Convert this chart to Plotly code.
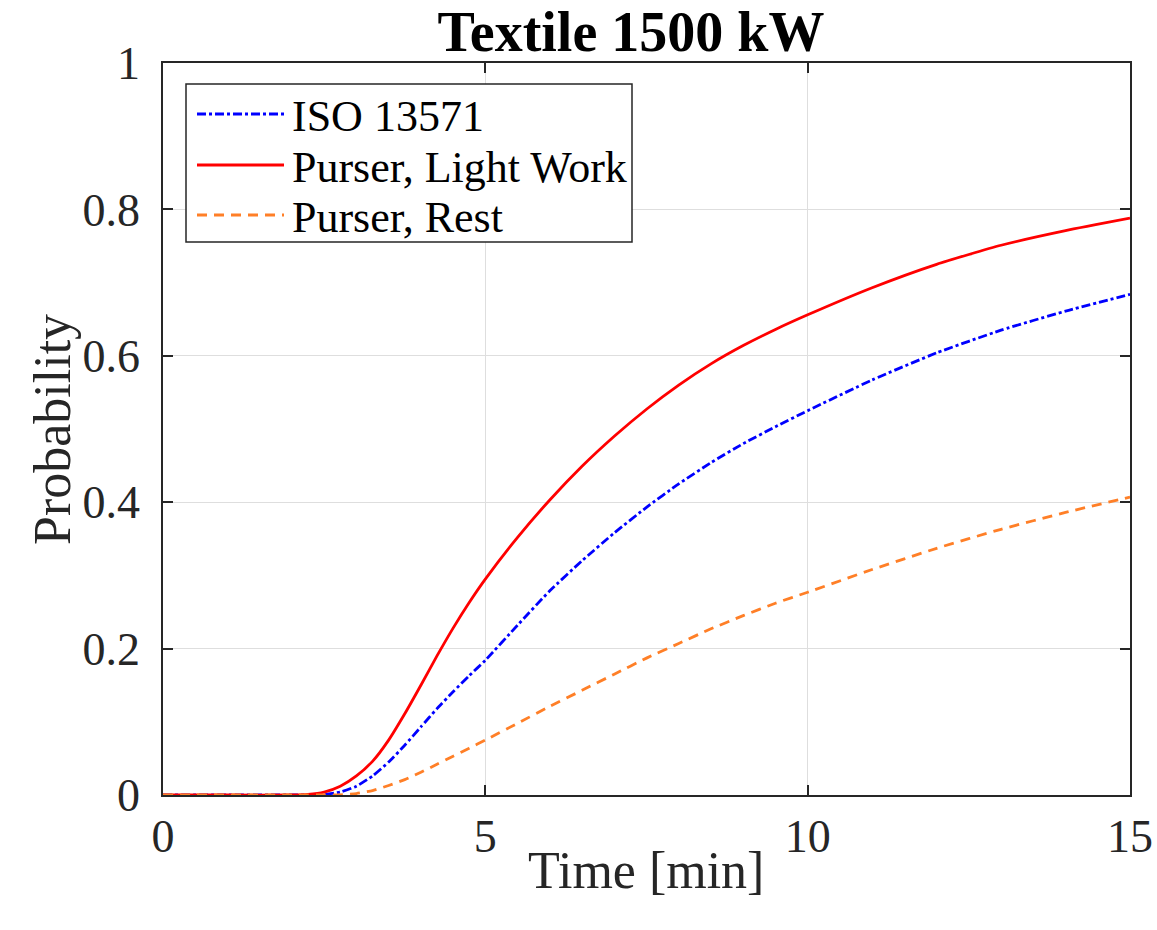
import plotly.graph_objects as go

# Time axis (minutes) and incapacitation probability for each model
time_min = [0, 1, 2, 2.25, 2.5, 2.75, 3, 3.25, 3.5, 3.75, 4, 4.25, 4.5, 4.75, 5,
            5.5, 6, 6.5, 7, 7.5, 8, 8.5, 9, 9.5, 10, 11, 12, 13, 14, 15]

iso_13571 = [0, 0, 0, 0, 0.0008, 0.004, 0.012, 0.026, 0.045, 0.068, 0.093, 0.118,
             0.141, 0.163, 0.184, 0.232, 0.279, 0.320, 0.358, 0.393, 0.425, 0.454,
             0.480, 0.503, 0.525, 0.567, 0.604, 0.635, 0.661, 0.684]

purser_light_work = [0, 0, 0, 0.0008, 0.004, 0.012, 0.026, 0.046, 0.075, 0.111, 0.150,
                     0.190, 0.228, 0.263, 0.295, 0.352, 0.403, 0.449, 0.490, 0.527,
                     0.560, 0.589, 0.614, 0.636, 0.656, 0.693, 0.725, 0.751, 0.771, 0.788]

purser_rest = [0, 0, 0, 0, 0, 0.0003, 0.002, 0.006, 0.013, 0.021, 0.031, 0.042, 0.053,
               0.064, 0.075, 0.098, 0.121, 0.143, 0.165, 0.187, 0.207, 0.227, 0.245,
               0.262, 0.277, 0.308, 0.337, 0.363, 0.386, 0.407]

x_ticks = [0, 5, 10, 15]
y_ticks = [0, 0.2, 0.4, 0.6, 0.8, 1]
y_tick_text = ["0", "0.2", "0.4", "0.6", "0.8", "1"]

series_names = ["ISO 13571", "Purser, Light Work", "Purser, Rest"]
series_values = [iso_13571, purser_light_work, purser_rest]
series_colors = ["#0000ff", "#ff0000", "#ff7f27"]
series_dashes = ["9px,3px,3px,3px", "solid", "10px,7px"]

FONT = "Liberation Serif"
AXIS_COLOR = "#262626"

# Plot area in pixels
W, H = 1157, 930
L, R, T, B = 163, 27, 63, 135
PW, PH = W - L - R, H - T - B


def px_x(p):
    return (p - L) / PW


def px_y(p):
    return (H - B - p) / PH


fig = go.Figure()
for name, vals, color, dash in zip(series_names, series_values, series_colors, series_dashes):
    fig.add_trace(go.Scatter(
        x=time_min, y=vals, name=name, mode="lines", showlegend=False,
        line=dict(color=color, width=2.8, dash=dash, shape="spline", smoothing=0.5),
    ))

axis_common = dict(
    showline=True, linecolor=AXIS_COLOR, linewidth=1.5, mirror="ticks",
    ticks="inside", ticklen=10, tickwidth=1.5, tickcolor=AXIS_COLOR,
    showgrid=True, gridcolor="#dedede", gridwidth=1.2, zeroline=False,
    automargin=False,
    tickfont=dict(family=FONT, size=46, color=AXIS_COLOR),
)

fig.update_xaxes(range=[0, 15], tickvals=x_ticks, ticklabelstandoff=0, **axis_common)
fig.update_yaxes(range=[0, 1], tickvals=y_ticks, ticktext=y_tick_text,
                 ticklabelstandoff=12, **axis_common)

# Legend box with line samples and labels
shapes = [dict(
    type="rect", xref="paper", yref="paper",
    x0=px_x(186), x1=px_x(632), y0=px_y(242), y1=px_y(84),
    fillcolor="white", line=dict(color=AXIS_COLOR, width=1.5), layer="above",
)]
annotations = []
row_y = [114, 165, 215]
for name, color, dash, yy in zip(series_names, series_colors, series_dashes, row_y):
    shapes.append(dict(
        type="line", xref="paper", yref="paper",
        x0=px_x(197), x1=px_x(284), y0=px_y(yy), y1=px_y(yy),
        line=dict(color=color, width=2.8, dash=dash), layer="above",
    ))
    annotations.append(dict(
        text=name, xref="paper", yref="paper", x=px_x(290), y=px_y(yy + 2),
        xanchor="left", yanchor="middle", showarrow=False,
        font=dict(family=FONT, size=44, color="black"),
    ))

# Axis titles
annotations.append(dict(
    text="Time [min]", xref="paper", yref="paper", x=px_x(646), y=px_y(871),
    xanchor="center", yanchor="middle", showarrow=False,
    font=dict(family=FONT, size=52, color=AXIS_COLOR),
))
annotations.append(dict(
    text="Probability", xref="paper", yref="paper", x=px_x(52), y=px_y(430),
    xanchor="center", yanchor="middle", showarrow=False, textangle=-90,
    font=dict(family=FONT, size=52, color=AXIS_COLOR),
))

fig.update_layout(
    width=W, height=H,
    margin=dict(l=L, r=R, t=T, b=B),
    paper_bgcolor="white", plot_bgcolor="white",
    title=dict(
        text="<b>Textile 1500 kW</b>", x=631 / W, xanchor="center",
        y=1 - 31 / H, yref="container", yanchor="middle",
        font=dict(family=FONT, size=56, color="black"),
    ),
    shapes=shapes,
    annotations=annotations,
    showlegend=False,
)

fig.write_html("out.html")
